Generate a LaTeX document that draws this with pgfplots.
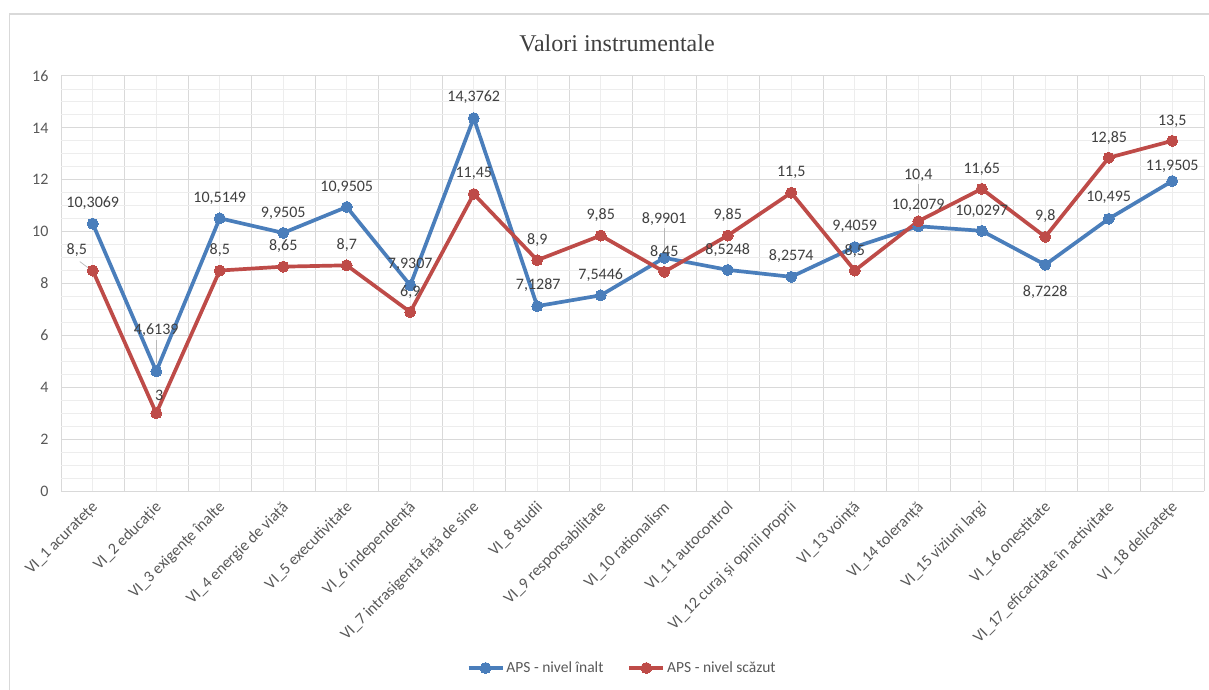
\documentclass[border=0pt]{standalone}
\usepackage{fontspec}
\setmainfont{Carlito}
\newfontfamily\titlefont{Liberation Serif}
\usepackage{pgfplots}
\pgfplotsset{compat=1.18}
\usepackage{pgfplotstable}

\definecolor{serieblue}{HTML}{4A7EBB}
\definecolor{seriered}{HTML}{BE4B48}
\definecolor{gridmaj}{HTML}{D9D9D9}
\definecolor{gridmin}{HTML}{EDEDED}
\definecolor{labelgray}{HTML}{595959}
\definecolor{valgray}{HTML}{404040}

% x = category index, y = value, dx/dy = label offset (pt)
\pgfplotstableread{
x y dx dy
1 10.3069 0 21
2 4.6139 0 41
3 10.5149 0 20
4 9.9505 0 20
5 10.9505 0 20
6 7.9307 0 21
7 14.3762 0 21
8 7.1287 1 21
9 7.5446 0 20
10 8.9901 0 39
11 8.5248 0 20
12 8.2574 0 21
13 9.4059 0 21
14 10.2079 0 21
15 10.0297 0 20
16 8.7228 0 -27
17 10.495 0 21
18 11.9505 0 15
}\inalt

\pgfplotstableread{
x y dx dy
1 8.5 -16 20
2 3 3 18
3 8.5 0 20
4 8.65 0 21
5 8.7 0 20
6 6.9 0 20
7 11.45 0 21
8 8.9 0 20
9 9.85 0 20
10 8.45 0 20
11 9.85 0 20
12 11.5 0 20
13 8.5 0 19
14 10.4 0 46
15 11.65 0 20
16 9.8 0 21
17 12.85 0 20
18 13.5 0 20
}\scazut

\begin{document}
\begin{tikzpicture}
\useasboundingbox (0pt,0pt) rectangle (1209pt,689pt);
\fill[white] (0pt,0pt) rectangle (1209pt,689pt);
% chart area frame
\draw[gridmaj, line width=1.2pt] (9.5pt,-5pt) -- (9.5pt,675pt) -- (1220pt,675pt);
\node[font=\titlefont\fontsize{24}{28}\selectfont, text=valgray] at (617pt,646pt) {Valori instrumentale};

\begin{axis}[
  at={(61pt,198pt)}, anchor=south west,
  scale only axis, width=1143pt, height=415pt,
  xmin=0.5, xmax=18.5, ymin=0, ymax=16,
  clip=false,
  axis line style={draw=none},
  major tick length=0pt, minor tick length=0pt,
  xtick={1,...,18},
  minor xtick={0.5,1.5,...,18.5},
  ytick={0,2,...,16},
  minor y tick num=3,
  grid=both,
  major x grid style={gridmin, line width=0.9pt},
  minor x grid style={gridmaj, line width=1pt},
  major y grid style={gridmaj, line width=1pt},
  minor y grid style={gridmin, line width=0.9pt},
  xticklabels={
    VI\_1 acuratețe, VI\_2 educație, VI\_3 exigențe înalte, VI\_4 energie de viață,
    VI\_5 executivitate, VI\_6 independență, VI\_7 intrasigentă față de sine,
    VI\_8 studii, VI\_9 responsabilitate, VI\_10 rationalism, VI\_11 autocontrol,
    VI\_12 curaj și opinii proprii, VI\_13 voință, VI\_14 toleranță,
    VI\_15 viziuni largi, VI\_16 onestitate, VI\_17\_eficacitate în activitate,
    VI\_18 delicateţe},
  xticklabel style={xshift=3pt, yshift=-14pt, rotate=45, anchor=east,
    font=\fontsize{16}{18}\selectfont, text=labelgray, inner sep=0pt},
  yticklabel style={font=\fontsize{16}{18}\selectfont, text=labelgray, xshift=-9pt},
  /pgf/number format/assume math mode=true,
  /pgf/number format/use comma,
  /pgf/number format/1000 sep={},
  /pgf/number format/precision=4,
  legend style={at={(0.491,-0.4265)}, anchor=center, legend columns=2,
    draw=none, fill=none, font=\fontsize{15.5}{18}\selectfont, text=labelgray,
    /tikz/every even column/.append style={column sep=22pt}},
  legend image code/.code={
    \draw[mark repeat=2, mark phase=2, #1] plot coordinates {(0pt,0pt) (17pt,0pt) (34pt,0pt)};
  },
  nodes near coords,
  point meta=y,
  visualization depends on={\thisrow{dx} \as \ldx},
  visualization depends on={\thisrow{dy} \as \ldy},
  nodes near coords style={anchor=center, font=\fontsize{16}{18}\selectfont,
    text=valgray, xshift={\ldx*1pt}, yshift={\ldy*1pt}},
]
% leader lines of the moved value labels
\draw[gray!55, line width=0.7pt] (axis cs:2,4.6139) ++(0pt,8pt) -- ++(0pt,23pt);
\draw[gray!55, line width=0.7pt] (axis cs:10,8.9901) ++(0pt,8pt) -- ++(0pt,22pt);
\draw[gray!55, line width=0.7pt] (axis cs:14,10.4) ++(0pt,8pt) -- ++(0pt,29pt);
\draw[gray!55, line width=0.7pt] (axis cs:1,8.5) ++(-5pt,3pt) -- ++(-8pt,6pt);

\addplot[serieblue, line width=3.7pt, mark=*, mark size=5.5pt,
  mark options={fill=serieblue, draw=serieblue, line width=0pt}]
  table[x=x, y=y] {\inalt};
\addlegendentry{APS - nivel înalt}

\addplot[seriered, line width=3.7pt, mark=*, mark size=5.5pt,
  mark options={fill=seriered, draw=seriered, line width=0pt}]
  table[x=x, y=y] {\scazut};
\addlegendentry{APS - nivel scăzut}
\end{axis}
\end{tikzpicture}
\end{document}
